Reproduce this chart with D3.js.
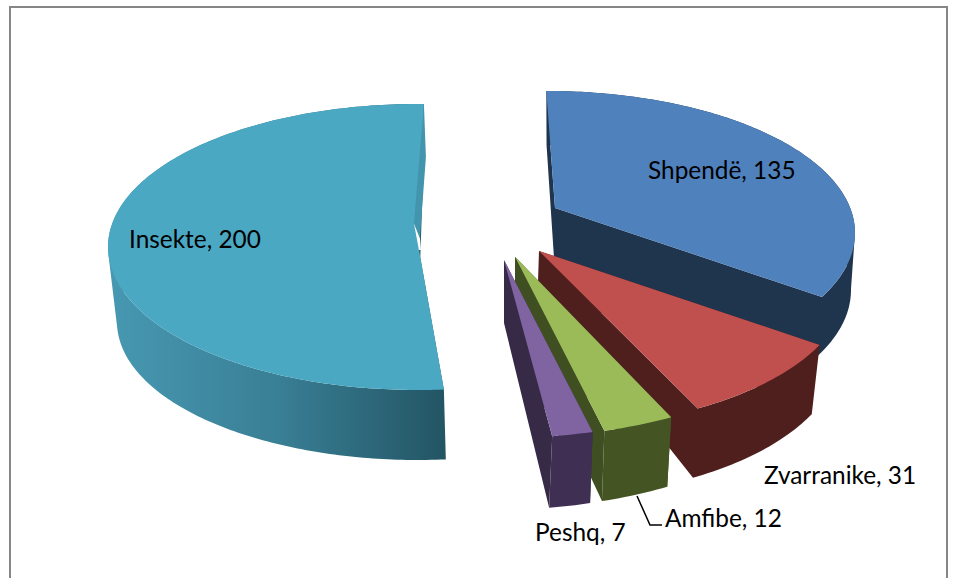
<!DOCTYPE html>
<html><head><meta charset="utf-8">
<script src="https://cdn.jsdelivr.net/npm/d3@7/dist/d3.min.js"></script>
<style>html,body{margin:0;padding:0;background:#fff}svg{display:block}</style>
</head><body><svg id="c" width="956" height="578"></svg>
<script>
const categories = ["Shpendë","Zvarranike","Amfibe","Peshq","Insekte"];
const values = [135,31,12,7,200];

// Perspective description of each exploded slice (layout only, not data)
const topFaces = [
  {cx:547,cy:233,rx:308,ry:142,ax:.026,ay:.176,rot0:-1.8,rot1:0},
  {cx:539,cy:286,rx:308,ry:143,ax:0,ay:.245,rot0:.4,rot1:.4},
  {cx:515,cy:294,rx:308,ry:143,ax:0,ay:.26,rot0:1.2,rot1:.6},
  {cx:504,cy:295,rx:308,ry:143,ax:0,ay:.245,rot0:.5,rot1:0},
  {cx:418,cy:247,rx:310,ry:143,ax:.003,ay:-.02,rot0:2.3,rot1:.9}
];
const bottomFaces = [
  {cx:546,cy:290,rx:305,ry:145,ax:.03,ay:.10,rot0:-1.7,rot1:0},
  {cx:538,cy:352.5,rx:302,ry:146,ax:0,ay:.225,rot0:0,rot1:0,apexY:282},
  {cx:515,cy:367.5,rx:290,ry:140,ax:0,ay:.25,rot0:0,rot1:0,apexY:316},
  {cx:504,cy:369.5,rx:287,ry:140,ax:0,ay:.25,rot0:0,rot1:0,apexY:323},
  {cx:418,cy:322,rx:301,ry:138,ax:0,ay:-.02,rot0:1.6,rot1:.9}
];
const topColors  = ["#4f81bd","#c0504d","#9bbb59","#8064a2","#4aa8c3"];
const wallColors = ["#1f344d","#4f1f1e","#445523","#3f3053","url(#tealWall)"];
const sideColors = ["#1f344d","#4f1f1e","#3f4f21","#362a47","url(#tealWall)"];
const labelPos = [[648,179],[764,484],[665,527],[535,541],[129,248]];
const leader = [[637,496],[650,525],[662,525]];
const notchStrip = [[0,0],[2,53],[-4,134],[-10,119]];
const notchGap = [[-4,134],[-10,119],[-5,146],[-3,146]];

const svg = d3.select("#c");
const grad = svg.append("defs").append("linearGradient").attr("id","tealWall")
  .attr("gradientUnits","userSpaceOnUse").attr("x1",110).attr("x2",445).attr("y1",0).attr("y2",0);
[[0,"#4798b2"],[.5,"#397f95"],[1,"#235564"]].forEach(([o,c])=>grad.append("stop").attr("offset",o).attr("stop-color",c));

svg.append("rect").attr("x",10).attr("y",7).attr("width",937).attr("height",620)
  .attr("fill","#fff").attr("stroke","#868686").attr("stroke-width",2);

const arcs = d3.pie().sort(null).startAngle(0).endAngle(2*Math.PI)(values);

function project(f, theta){
  const u=Math.sin(theta), v=Math.cos(theta);
  const a2=f.ax*f.ax+f.ay*f.ay, s=Math.sqrt(1-a2), d=f.ax*u+f.ay*v;
  const k=a2>0?d/a2:0;
  const px=k*f.ax, py=k*f.ay;
  const U=(px+f.ax+s*(u-px))/(1+d), V=(py+f.ay+s*(v-py))/(1+d);
  return [f.cx+f.rx*U, f.cy-f.ry*V];
}
function apex(f){
  return [f.cx+f.rx*f.ax, f.apexY!==undefined?f.apexY:f.cy-f.ry*f.ay];
}
function arcPoints(f, a){
  const warp = d3.scaleLinear().domain([a.startAngle,a.endAngle])
    .range([a.startAngle+f.rot0*Math.PI/180, a.endAngle+f.rot1*Math.PI/180]);
  const n = Math.max(8,Math.ceil((a.endAngle-a.startAngle)*60));
  return d3.range(n+1).map(i=>project(f,warp(a.startAngle+(a.endAngle-a.startAngle)*i/n)));
}
const line = d3.line().curve(d3.curveLinearClosed);
// every polygon gets the same winding so a merged path has no cancelling overlaps
const poly = pts => line(d3.polygonArea(pts)<0 ? pts.slice().reverse() : pts);

arcs.forEach((a,i)=>{
  const g = svg.append("g").attr("class","slice").attr("data-name",categories[i]);
  const T = arcPoints(topFaces[i],a), B = arcPoints(bottomFaces[i],a);
  const tA = apex(topFaces[i]), bA = apex(bottomFaces[i]);
  const last = T.length-1;
  const sweep = d3.range(last).map(j=>poly([T[j],T[j+1],B[j+1],B[j]])).join("");
  const sides = poly([tA,T[0],B[0],bA])+poly([tA,T[last],B[last],bA]);
  if(sideColors[i]===wallColors[i]){
    g.append("path").attr("d",sides+sweep).attr("fill",wallColors[i]);
  } else {
    g.append("path").attr("d",sides).attr("fill",sideColors[i]);
    g.append("path").attr("d",sweep).attr("fill",wallColors[i]);
  }
  g.append("path").attr("d",line([tA,...T])).attr("fill",topColors[i]);
  if(i===4){
    const at = ([dx,dy])=>[T[last][0]+dx,T[last][1]+dy];
    g.append("path").attr("d",line(notchGap.map(at))).attr("fill","#fff");
    g.append("path").attr("d",line(notchStrip.map(at))).attr("fill","#4394ad");
  }
});

svg.append("path").attr("d",d3.line()(leader)).attr("fill","none").attr("stroke","#000").attr("stroke-width",1.5);

svg.append("g").selectAll("text").data(categories).join("text")
  .attr("x",(d,i)=>labelPos[i][0]).attr("y",(d,i)=>labelPos[i][1])
  .attr("font-family","Lato, 'Open Sans', sans-serif").attr("font-size",24.4).attr("fill","#000")
  .text((d,i)=>`${d}, ${values[i]}`);
</script></body></html>
